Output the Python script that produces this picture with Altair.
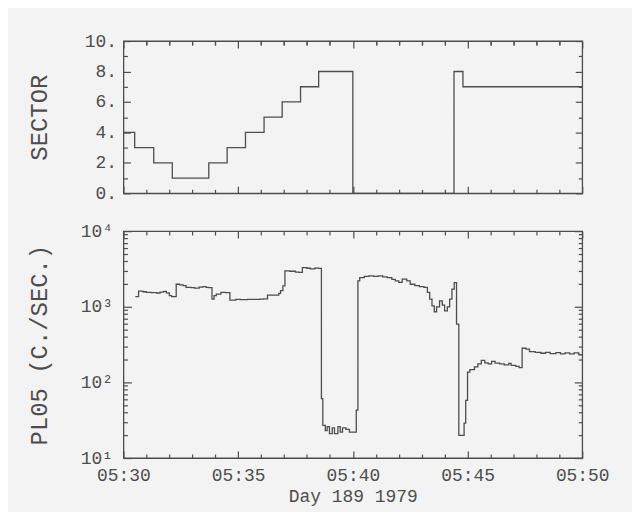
import altair as alt
import pandas as pd

# ---------------- data (minutes after 05:30, Day 189 1979) ----------------
sector_t = [0.0, 0.49, 1.32, 2.13, 3.72, 4.52, 5.32, 6.13, 6.92, 7.72, 8.51, 10.0, 14.41, 14.80, 20.0]
sector_v = [4, 3, 2, 1, 2, 3, 4, 5, 6, 7, 8, 0, 8, 7, 7]

rate_t = [0.52, 0.66, 0.85, 1.00, 1.21, 1.45, 1.60, 1.75, 1.87, 2.00, 2.10, 2.30, 2.45, 2.60,
          2.73, 2.95, 3.10, 3.30, 3.45, 3.60, 3.70, 3.86, 3.95, 4.05, 4.25, 4.45, 4.64, 4.90,
          5.10, 5.40, 5.70, 5.95, 6.10, 6.28, 6.50, 6.77, 6.85, 6.95, 7.04, 7.25, 7.50, 7.65,
          7.80, 8.00, 8.15, 8.35, 8.50, 8.63, 8.69, 8.80, 8.88, 8.98, 9.10, 9.20, 9.35, 9.45,
          9.55, 9.70, 9.85, 10.15, 10.22, 10.30, 10.50, 10.70, 10.90, 11.10, 11.30, 11.50,
          11.70, 11.85, 12.00, 12.15, 12.35, 12.50, 12.70, 12.90, 13.10, 13.25, 13.35, 13.45,
          13.55, 13.65, 13.78, 13.90, 14.00, 14.12, 14.22, 14.32, 14.42, 14.52, 14.62, 14.85,
          14.92, 15.00, 15.10, 15.30, 15.45, 15.60, 15.75, 15.90, 16.05, 16.20, 16.40, 16.60,
          16.80, 16.90, 17.10, 17.25, 17.38, 17.55, 17.70, 17.95, 18.20, 18.40, 18.60, 18.85,
          19.05, 19.25, 19.45, 19.65, 19.85, 20.00]
rate_v = [1365, 1610, 1580, 1550, 1540, 1520, 1560, 1600, 1530, 1400, 1365, 1985, 1950, 1900,
          1800, 1790, 1760, 1820, 1850, 1800, 1790, 1260, 1400, 1470, 1550, 1540, 1225, 1250,
          1240, 1255, 1250, 1265, 1270, 1425, 1430, 1500, 1640, 1890, 2980, 2950, 2880, 2850,
          3290, 3230, 3180, 3250, 3220, 61, 27, 23, 26, 21, 25, 21, 26, 22,
          25, 24, 22, 43, 2200, 2430, 2520, 2560, 2520, 2560, 2480, 2430,
          2300, 2200, 2100, 2320, 2200, 1985, 1900, 1850, 1800, 1550, 1260, 1030,
          860, 1000, 1200, 1050, 885, 1000, 1260, 1710, 2090, 590, 20, 29,
          58, 137, 148, 160, 176, 195, 181, 176, 190, 180, 176, 171,
          178, 168, 163, 157, 283, 275, 256, 249, 243, 250, 240, 248,
          238, 246, 238, 245, 232, 232]

# ---------------- axis tick values / labels ----------------
x_major = [0, 5, 10, 15, 20]
x_minor = [1, 2, 3, 4, 6, 7, 8, 9, 11, 12, 13, 14, 16, 17, 18, 19]
sector_major = [0, 2, 4, 6, 8, 10]
sector_minor = [1, 3, 5, 7, 9]
rate_major = [10, 100, 1000, 10000]
rate_minor = [20, 30, 40, 50, 60, 70, 80, 90,
              200, 300, 400, 500, 600, 700, 800, 900,
              2000, 3000, 4000, 5000, 6000, 7000, 8000, 9000]

x_title = "Day 189 1979"
top_title = "SECTOR"
bottom_title = "PL05 (C./SEC.)"

FONT = "Liberation Mono"
INK = "#4d4d4d"
BG = "#f3f3f3"
W = 461
H_TOP = 153
H_BOT = 228

sector_df = pd.DataFrame({"t": sector_t, "v": sector_v})
rate_df = pd.DataFrame({"t": rate_t, "v": rate_v})


def tick_axis(orient, values, size):
    return alt.Axis(orient=orient, values=values, tickSize=size, offset=-size,
                    labels=False, domain=False, grid=False, title=None,
                    tickColor=INK, tickWidth=1.2)


x_label_axis = alt.Axis(orient="bottom", values=x_major, ticks=False, tickSize=0,
                        domain=False, grid=False, labelFlush=False, labelOverlap=False,
                        labelExpr="'05:' + format(30 + datum.value, '02d')",
                        labelFont=FONT, labelFontSize=18, labelColor=INK, labelPadding=9,
                        title=x_title, titleFont=FONT, titleFontSize=18,
                        titleFontWeight="normal", titleColor=INK, titlePadding=3)


def y_label_axis(values, expr, title, pad):
    return alt.Axis(orient="left", values=values, ticks=False, tickSize=0,
                    domain=False, grid=False, labelOverlap=False, labelExpr=expr,
                    labelFont=FONT, labelFontSize=18, labelColor=INK, labelPadding=pad,
                    labelBaseline="middle",
                    title=title, titleFont=FONT, titleFontSize=24, titleFontWeight="normal",
                    titleColor=INK, titleX=-84, titleAngle=270, titleBaseline="middle",
                    titleAlign="center")


def panel(df, xscale, yscale, pairs, h):
    layers = []
    for i, (xa, ya) in enumerate(pairs):
        layers.append(
            alt.Chart(df).mark_line(interpolate="step-after", color=INK, strokeWidth=1.3,
                                    opacity=1 if i == 0 else 0)
            .encode(x=alt.X("t:Q", scale=xscale, axis=xa),
                    y=alt.Y("v:Q", scale=yscale, axis=ya))
        )
    return (alt.layer(*layers)
            .resolve_scale(x="shared", y="shared")
            .resolve_axis(x="independent", y="independent")
            .properties(width=W, height=h))


xs = alt.Scale(domain=[0, 20], nice=False, zero=False)
ys_top = alt.Scale(domain=[0, 10], nice=False)
ys_bot = alt.Scale(type="log", domain=[10, 10000], nice=False)

top_pairs = [
    (tick_axis("bottom", x_major, 7),
     y_label_axis(sector_major, "datum.value + '.'", top_title, 7)),
    (tick_axis("bottom", x_minor, 4), tick_axis("left", sector_major, 7)),
    (tick_axis("top", x_major, 7), tick_axis("left", sector_minor, 4)),
    (tick_axis("top", x_minor, 4), tick_axis("right", sector_major, 7)),
    (tick_axis("top", x_minor, 4), tick_axis("right", sector_minor, 4)),
]

sup_expr = ("'10' + (datum.value == 10 ? '\u00b9' : datum.value == 100 ? '\u00b2' : "
            "datum.value == 1000 ? '\u00b3' : '\u2074')")
bot_pairs = [
    (x_label_axis, y_label_axis(rate_major, sup_expr, bottom_title, 11)),
    (tick_axis("bottom", x_major, 7), tick_axis("left", rate_major, 8)),
    (tick_axis("bottom", x_minor, 4), tick_axis("left", rate_minor, 4)),
    (tick_axis("top", x_major, 7), tick_axis("right", rate_major, 8)),
    (tick_axis("top", x_minor, 4), tick_axis("right", rate_minor, 4)),
]

top = panel(sector_df, xs, ys_top, top_pairs, H_TOP)
bottom = panel(rate_df, xs, ys_bot, bot_pairs, H_BOT)

chart = (alt.vconcat(top, bottom, spacing=38, bounds="flush")
         .properties(background=BG,
                     padding={"left": 19, "top": 22, "right": 22, "bottom": 4})
         .configure_view(stroke=INK, strokeWidth=1.3)
         .configure_axis(grid=False))

chart.save("out.html", embed_options={"renderer": "svg", "actions": False})
